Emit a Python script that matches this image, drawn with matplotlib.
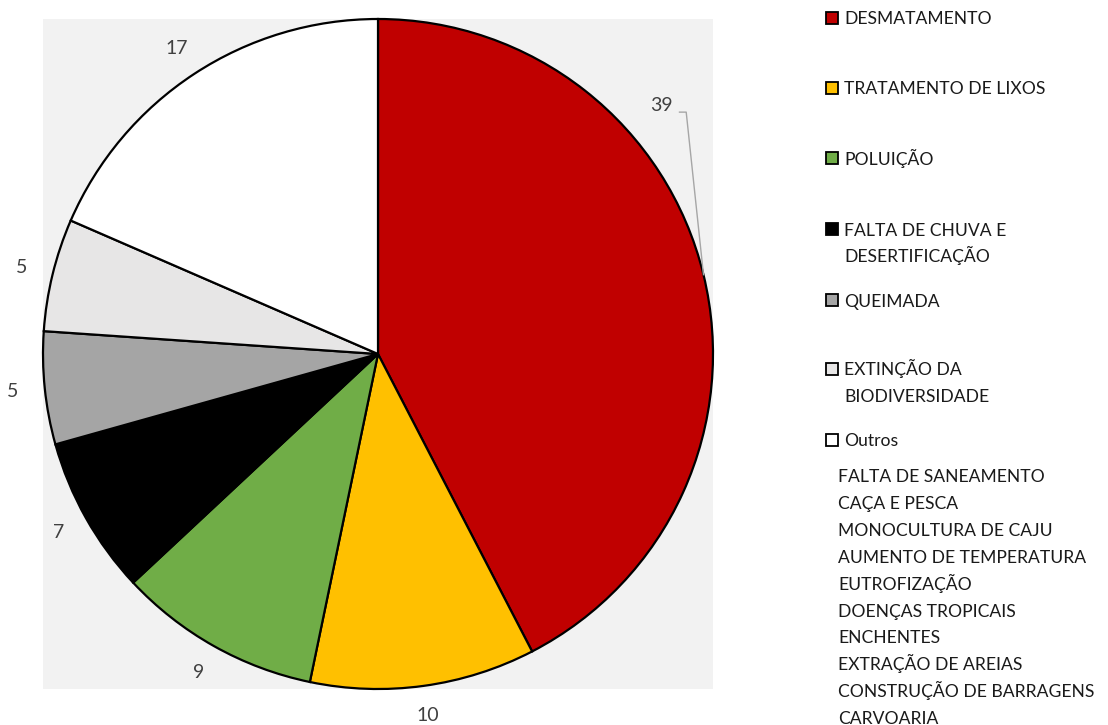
import numpy as np
import matplotlib.pyplot as plt
from matplotlib.patches import Rectangle

# data
categories = ["DESMATAMENTO", "TRATAMENTO DE LIXOS", "POLUIÇÃO",
              "FALTA DE CHUVA E\nDESERTIFICAÇÃO", "QUEIMADA",
              "EXTINÇÃO DA\nBIODIVERSIDADE", "Outros"]
values = [39, 10, 9, 7, 5, 5, 17]
colors = ["#c00000", "#ffc000", "#70ad47", "#000000", "#a5a5a5", "#e7e6e6", "#ffffff"]
outros_items = ["FALTA DE SANEAMENTO", "CAÇA E PESCA", "MONOCULTURA DE CAJU",
                "AUMENTO DE TEMPERATURA", "EUTROFIZAÇÃO", "DOENÇAS TROPICAIS",
                "ENCHENTES", "EXTRAÇÃO DE AREIAS", "CONSTRUÇÃO DE BARRAGENS",
                "CARVOARIA"]

plt.rcParams["font.family"] = ["Lato", "DejaVu Sans"]

W, H = 1108, 725
fig = plt.figure(figsize=(W / 100, H / 100), dpi=100)
fig.patch.set_facecolor("white")

ax = fig.add_axes([43 / W, (H - 689) / H, 670 / W, 670 / H])

wedges, _ = ax.pie(values, colors=colors, startangle=90, counterclock=False,
                   radius=1.0, wedgeprops=dict(edgecolor="black", linewidth=1.6))
ax.set_xlim(-1, 1)
ax.set_ylim(-1, 1)
ax.set_aspect("equal")
# pie() hides the frame; bring back the grey plot area
ax.set_frame_on(True)
ax.set_facecolor("#f2f2f2")
for s in ax.spines.values():
    s.set_visible(False)
ax.set_xticks([])
ax.set_yticks([])

label_color = "#404040"
for i, (w, v) in enumerate(zip(wedges, values)):
    ang = np.deg2rad((w.theta1 + w.theta2) / 2)
    x, y = np.cos(ang), np.sin(ang)
    if i == 0:
        # big slice: label moved up with a leader line
        ax.plot([x, 0.92, 0.90], [y, 0.722, 0.722], color="#a6a6a6",
                lw=1.0, clip_on=False, zorder=5)
        ax.text(0.845, 0.742, str(v), ha="center", va="center", fontsize=14,
                color=label_color, clip_on=False)
    else:
        ax.text(1.095 * x, 1.09 * y, str(v), ha="center", va="center",
                fontsize=14, color=label_color, clip_on=False)

# legend drawn by hand on the right
leg_y = [18, 88, 158, 229, 300, 369, 440]
for name, col, yy in zip(categories, colors, leg_y):
    fig.add_artist(Rectangle((826 / W, (H - yy - 6) / H), 12 / W, 12 / H,
                             facecolor=col, edgecolor="black", lw=1.3,
                             transform=fig.transFigure))
    for k, ln in enumerate(name.split("\n")):
        fig.text(844 / W, (H - yy - 27 * k - 6.5) / H, ln, ha="left",
                 va="baseline", fontsize=12.6, color="#1a1a1a")

for k, item in enumerate(outros_items):
    yy = 476 + 26.8 * k
    fig.text(838 / W, (H - yy - 6.5) / H, item, ha="left", va="baseline",
             fontsize=12.6, color="#1a1a1a")

fig.savefig("out.png", dpi=100)
